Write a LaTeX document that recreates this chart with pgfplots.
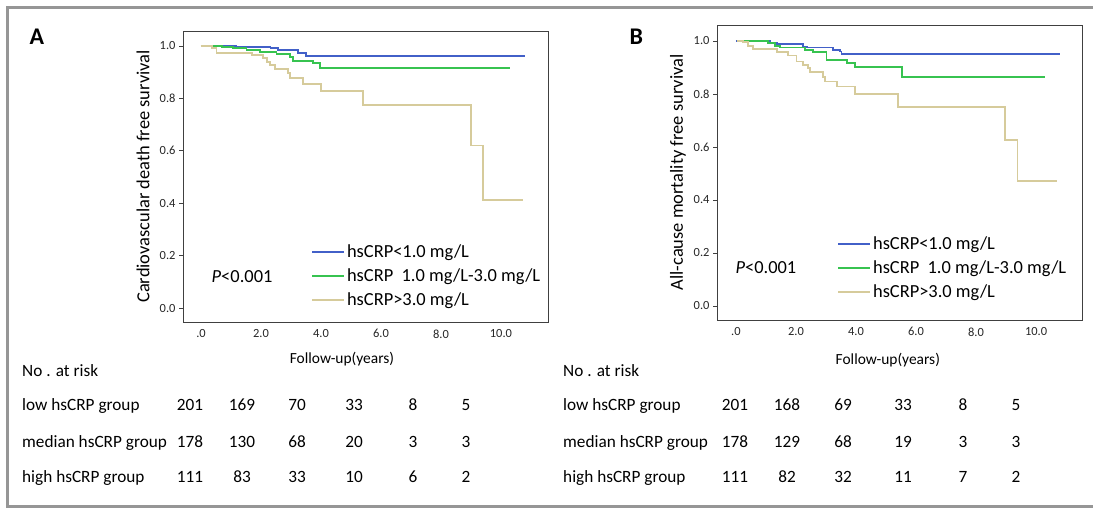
\documentclass[border=0pt]{standalone}
\usepackage{fontspec}
\setmainfont{Carlito}
\usepackage{pgfplots}
\pgfplotsset{compat=1.18}
\definecolor{kmblue}{RGB}{66,96,200}
\definecolor{kmgreen}{RGB}{55,195,80}
\definecolor{kmtan}{RGB}{214,203,155}
\definecolor{framegray}{RGB}{150,150,150}

\newcommand{\tabfont}{\fontsize{17.3}{19}\selectfont}

\pgfplotsset{
  kmaxis/.style={
    scale only axis,
    width=365bp,
    axis line style={draw=black!75, line width=0.8bp},
    xtick={0,2,4,6,8,10},
    xticklabels={.0,2.0,4.0,6.0,8.0,10.0},
    ytick={0,0.2,0.4,0.6,0.8,1.0},
    yticklabels={0.0,0.2,0.4,0.6,0.8,1.0},
    tick align=outside,
    tick pos=left,
    xtick style={draw=none},
    ytick style={black!75, line width=0.6bp},
    major tick length=4bp,
    tick label style={font=\fontsize{12.5}{14}\selectfont, text=black!85},
    /pgf/number format/assume math mode=true,
    label style={font=\fontsize{15.5}{17}\selectfont},
    legend cell align=left,
    legend style={draw=none, fill=none, inner sep=0pt,
      font=\fontsize{18.5}{20}\selectfont, row sep=5.5bp},
    legend image code/.code={\draw[#1, line width=1.8bp] (0bp,0bp) -- (32bp,0bp);},
    every axis plot/.append style={const plot, line width=1.8bp},
  }
}

\begin{document}
\begin{tikzpicture}[x=1bp,y=1bp]
\useasboundingbox (0,0) rectangle (1093,508);
\draw[framegray, line width=3.5bp] (1100,500.5) -- (7.5,500.5) -- (7.5,1.5) -- (1100,1.5);

\node[anchor=base west, font=\fontsize{24}{26}\selectfont\bfseries] at (26,463) {A};
\node[anchor=base west, font=\fontsize{24}{26}\selectfont\bfseries] at (626,463) {B};

% panel A
\begin{axis}[kmaxis, at={(183bp,186bp)}, anchor=south west, height=291bp,
  xmin=-0.6, xmax=11.57, ymin=-0.053, ymax=1.057,
  xlabel={Follow-up(years)},
  xlabel style={at={(axis description cs:0.4356,-0.127)}, anchor=center},
  ylabel={Cardiovascular death free survival},
  ylabel style={at={(axis description cs:-0.1096,0.5)}, anchor=center, font=\fontsize{18.5}{20}\selectfont},
  legend style={at={(axis cs:3.67,0.122)}, anchor=west}]
\addplot[kmblue] coordinates {(0,1) (1.17,0.997) (2.32,0.992) (2.58,0.985) (3.24,0.972) (3.5,0.962) (10.8,0.962)};
\addlegendentry{hsCRP<1.0 mg/L}
\addplot[kmgreen] coordinates {(0.19,1) (0.69,0.997) (1.08,0.991) (1.52,0.985) (1.97,0.978) (2.52,0.969) (2.97,0.959) (3.08,0.944) (3.74,0.934) (3.97,0.915) (10.3,0.915)};
\addlegendentry{hsCRP\ \ 1.0 mg/L-3.0 mg/L}
\addplot[kmtan] coordinates {(0,1) (0.36,0.993) (0.52,0.972) (1.69,0.966) (2.08,0.953) (2.19,0.94) (2.3,0.928) (2.47,0.911) (2.91,0.898) (2.97,0.877) (3.41,0.855) (3.99,0.829) (5.41,0.775) (8.99,0.62) (9.39,0.412) (10.72,0.412)};
\addlegendentry{hsCRP>3.0 mg/L}
\node[font=\fontsize{18.5}{20}\selectfont] at (axis cs:1.37,0.122) {\textit{P}<0.001};
\end{axis}

% panel B
\begin{axis}[kmaxis, at={(717bp,188bp)}, anchor=south west, height=295bp,
  xmin=-0.63, xmax=11.53, ymin=-0.053, ymax=1.06,
  xlabel={Follow-up(years)},
  xlabel style={at={(axis description cs:0.468,-0.1356)}, anchor=center},
  ylabel={All-cause mortality free survival},
  ylabel style={at={(axis description cs:-0.107,0.5)}, anchor=center, font=\fontsize{18.5}{20}\selectfont},
  legend style={at={(axis cs:3.37,0.143)}, anchor=west}]
\addplot[kmblue] coordinates {(0,1) (1.13,0.991) (1.36,0.987) (2.24,0.978) (2.36,0.975) (3.24,0.966) (3.47,0.96) (3.52,0.951) (10.78,0.951)};
\addlegendentry{hsCRP<1.0 mg/L}
\addplot[kmgreen] coordinates {(0.02,1) (1.06,0.991) (1.3,0.982) (1.47,0.975) (2.3,0.966) (2.58,0.957) (3.02,0.928) (3.69,0.916) (3.97,0.901) (5.54,0.865) (10.28,0.865)};
\addlegendentry{hsCRP\ \ 1.0 mg/L-3.0 mg/L}
\addplot[kmtan] coordinates {(0.02,1) (0.24,0.995) (0.41,0.982) (0.58,0.969) (1.38,0.957) (1.74,0.945) (2.02,0.922) (2.24,0.909) (2.41,0.897) (2.47,0.882) (2.91,0.865) (2.97,0.847) (3.36,0.828) (3.97,0.8) (5.41,0.752) (8.97,0.626) (9.38,0.472) (10.69,0.472)};
\addlegendentry{hsCRP>3.0 mg/L}
\node[font=\fontsize{18.5}{20}\selectfont] at (axis cs:1.0,0.143) {\textit{P}<0.001};
\end{axis}

% numbers at risk, panel A
\begin{scope}[every node/.style={font=\tabfont, anchor=base, inner sep=0pt}]
\node[anchor=base west] at (22,131) {No . at risk};
\node[anchor=base west] at (22,97) {low hsCRP group};
\node[anchor=base west] at (22,60.5) {median hsCRP group};
\node[anchor=base west] at (22,25) {high hsCRP group};
\foreach \cx/\a/\b/\c in {190/201/178/111, 242/169/130/83, 297/70/68/33, 354/33/20/10, 413/8/3/6, 466/5/3/2}{
  \node at (\cx,97) {\a};
  \node at (\cx,60.5) {\b};
  \node at (\cx,25) {\c};
}
% numbers at risk, panel B
\node[anchor=base west] at (563,131) {No . at risk};
\node[anchor=base west] at (563,97) {low hsCRP group};
\node[anchor=base west] at (563,60.5) {median hsCRP group};
\node[anchor=base west] at (563,25) {high hsCRP group};
\foreach \cx/\a/\b/\c in {735/201/178/111, 787/168/129/82, 843/69/68/32, 903/33/19/11, 963/8/3/7, 1016/5/3/2}{
  \node at (\cx,97) {\a};
  \node at (\cx,60.5) {\b};
  \node at (\cx,25) {\c};
}
\end{scope}
\end{tikzpicture}
\end{document}
